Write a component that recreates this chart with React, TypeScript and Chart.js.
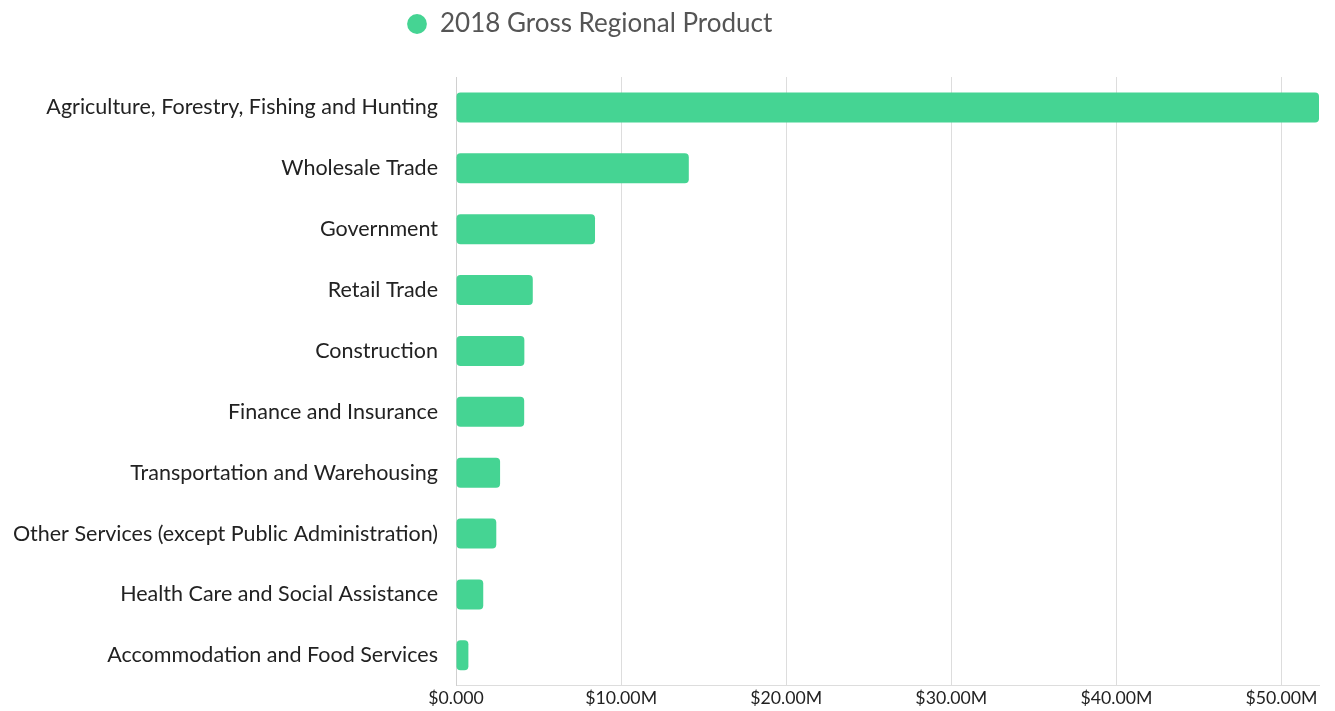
import React, { useEffect, useRef } from "react";
import { Chart, registerables } from "chart.js";

Chart.register(...registerables);

const categories: string[] = [
  "Agriculture, Forestry, Fishing and Hunting",
  "Wholesale Trade",
  "Government",
  "Retail Trade",
  "Construction",
  "Finance and Insurance",
  "Transportation and Warehousing",
  "Other Services (except Public Administration)",
  "Health Care and Social Assistance",
  "Accommodation and Food Services",
];

const grossRegionalProduct: number[] = [
  52270000, 14100000, 8420000, 4650000, 4140000, 4130000, 2670000, 2440000,
  1650000, 750000,
];

const seriesLabel = "2018 Gross Regional Product";
const xTickValues: number[] = [0, 10000000, 20000000, 30000000, 40000000, 50000000];

const FONT = "Lato, 'Noto Sans', sans-serif";
const GREEN = "#45d493";

function formatMoney(v: number): string {
  if (v === 0) return "$0.000";
  return "$" + (v / 1e6).toFixed(2) + "M";
}

const layoutTweaks = {
  id: "layoutTweaks",
  beforeLayout(chart: any) {
    const lg = chart.legend;
    if (lg && !lg.__wrapped) {
      const orig = lg.fit;
      lg.fit = function () {
        orig.call(this);
        this.height += 30;
      };
      lg.__wrapped = true;
    }
  },
  afterLayout(chart: any) {
    const lg = chart.legend;
    if (lg) {
      lg.left = 396;
    }
  },
};

export default function App() {
  const ref = useRef<HTMLCanvasElement | null>(null);

  useEffect(() => {
    let chart: Chart | null = null;
    let cancelled = false;

    const build = () => {
      if (cancelled || !ref.current || chart) return;
      chart = new Chart(ref.current, {
        type: "bar",
        data: {
          labels: categories,
          datasets: [
            {
              label: seriesLabel,
              data: grossRegionalProduct,
              backgroundColor: GREEN,
              borderColor: GREEN,
              borderWidth: 0,
              borderRadius: 4,
              borderSkipped: false,
              categoryPercentage: 0.8,
              barPercentage: 0.615,
            },
          ],
        },
        options: {
          indexAxis: "y",
          animation: false,
          responsive: true,
          maintainAspectRatio: false,
          layout: { padding: { left: 0, right: 16, top: 0, bottom: 0 } },
          plugins: {
            legend: {
              position: "top",
              align: "start",
              labels: {
                usePointStyle: true,
                pointStyle: "circle",
                boxWidth: 20,
                boxHeight: 14,
                padding: 11,
                color: "#555555",
                font: { family: FONT, size: 26 },
              },
            },
            tooltip: { enabled: false },
          },
          scales: {
            x: {
              type: "linear",
              min: 0,
              max: grossRegionalProduct[0],
              bounds: "data",
              afterBuildTicks: (axis: any) => {
                axis.ticks = xTickValues.map((v) => ({ value: v }));
              },
              grid: {
                display: true,
                color: "#dddddd",
                lineWidth: 1,
                drawTicks: false,
              },
              border: { display: true, color: "#dddddd" },
              ticks: {
                padding: 2,
                color: "#222222",
                autoSkip: false,
                maxRotation: 0,
                font: { family: FONT, size: 17.7 },
                callback: (v: any) => formatMoney(Number(v)),
              },
            },
            y: {
              afterFit: (scale: any) => {
                scale.width = 456;
                scale.paddingTop = 0;
                scale.paddingBottom = 0;
              },
              grid: { display: false, drawTicks: false },
              border: { display: true, color: "#d0d0d0" },
              ticks: {
                padding: 18,
                color: "#222222",
                font: { family: FONT, size: 21.5 },
              },
            },
          },
        },
        plugins: [layoutTweaks],
      });
    };

    const fontsApi: any = (document as any).fonts;
    if (fontsApi && fontsApi.load) {
      Promise.all([
        fontsApi.load("21.5px Lato"),
        fontsApi.load("26px Lato"),
        fontsApi.load("17.7px Lato"),
      ])
        .catch(() => undefined)
        .then(build);
      setTimeout(build, 1500);
    } else {
      build();
    }

    return () => {
      cancelled = true;
      if (chart) chart.destroy();
      chart = null;
    };
  }, []);

  return (
    <div
      style={{
        position: "absolute",
        left: 0,
        top: 0,
        width: 1335,
        height: 711,
        background: "#ffffff",
      }}
    >
      <canvas ref={ref} />
    </div>
  );
}
